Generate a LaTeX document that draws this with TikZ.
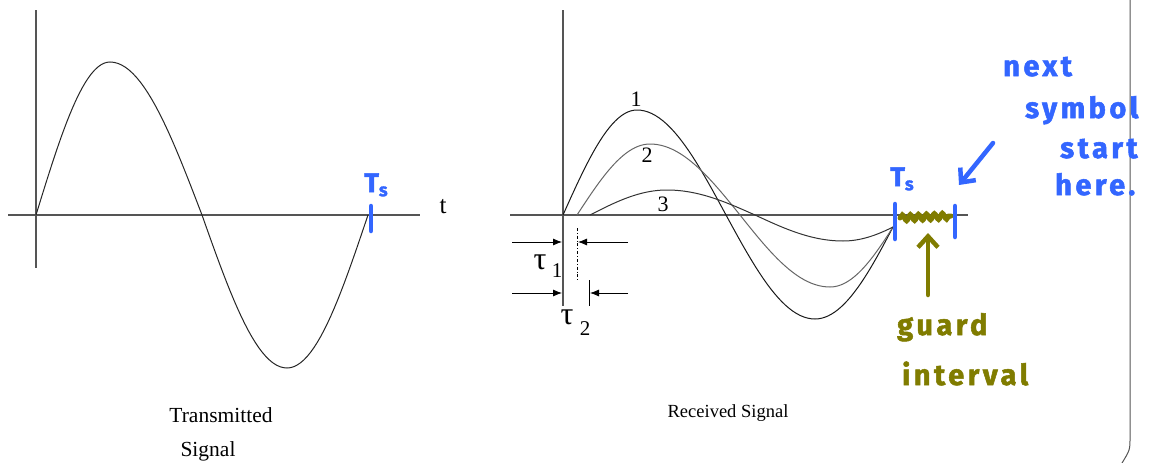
\documentclass[tikz,border=0pt]{standalone}
\usepackage{fontspec}
\setmainfont{Liberation Serif}
\newfontfamily\hand{Fira Sans}[LetterSpace=12,FakeBold=1.8]
\usetikzlibrary{arrows.meta,decorations.pathmorphing}
\definecolor{axisgray}{RGB}{85,85,85}
\definecolor{penblue}{RGB}{51,102,255}
\definecolor{penolive}{RGB}{128,124,0}
\newcommand\wavecurve[9]{%
  \draw[#9] plot[domain=0:90,samples=25] ({#1+(#2-#1)*\x/90},{215-#6*sin(\x)})
    -- plot[domain=90:180,samples=25] ({#2+(#3-#2)*(\x-90)/90},{215-#6*sin(\x)})
    -- plot[domain=180:270,samples=25] ({#3+(#4-#3)*(\x-180)/90},{215-#7*sin(\x)})
    -- plot[domain=270:#8,samples=25] ({#4+(#5-#4)*(\x-270)/(#8-270)},{215-#7*sin(\x)});}
\begin{document}
\begin{tikzpicture}[x=1pt,y=-1pt,
  axis/.style={draw=axisgray,line width=1.2pt},
  curve/.style={line width=1pt},
  lbl/.style={inner sep=0pt},
  dim/.style={draw=black,line width=0.8pt,-{Latex[length=9pt,width=7pt]}},
  bluepen/.style={draw=penblue,line width=4.5pt,line cap=round},
  olivepen/.style={draw=penolive,line width=4.5pt,line cap=round},
  handtxt/.style={font=\hand\bfseries\fontsize{29}{31}\selectfont,inner sep=0pt,anchor=base west}]
\useasboundingbox (0,0) rectangle (1159,463);
% ---------- left plot ----------
\coordinate (lyt) at (36,10); \coordinate (lyb) at (36,268);
\coordinate (lxl) at (8,215); \coordinate (lxr) at (420,215);
\draw[axis] (lyt) -- (lyb);
\draw[axis] (lxl) -- (lxr);
\wavecurve{36}{110}{202}{287}{368}{153}{153}{360}{curve,draw=black!85}
\node[lbl,font=\fontsize{25}{27}\selectfont] (t) at (443,207) {t};
\node[lbl,font=\fontsize{21.5}{24}\selectfont] (tx1) at (221,415) {Transmitted};
\node[lbl,font=\fontsize{21.5}{24}\selectfont] (tx2) at (208,451) {Signal};
% ---------- right plot ----------
\coordinate (ryt) at (563,10); \coordinate (ryb) at (563,306);
\coordinate (rxl) at (510,215); \coordinate (rxr) at (968,215);
\draw[axis] (ryt) -- (ryb);
\draw[axis] (rxl) -- (rxr);
\wavecurve{563}{637}{726}{815}{893}{105}{104}{353.4}{curve,draw=black!90}
\wavecurve{577}{650}{740}{830}{893}{71}{72}{350.4}{curve,draw=black!60}
\wavecurve{590}{667}{755}{843}{893}{25}{26}{332.5}{curve,draw=black!80}
\node[lbl,font=\fontsize{22}{24}\selectfont] (n1) at (636,99) {1};
\node[lbl,font=\fontsize{22}{24}\selectfont] (n2) at (647,155) {2};
\node[lbl,font=\fontsize{22}{24}\selectfont] (n3) at (663,204) {3};
\node[lbl,font=\fontsize{18.5}{21}\selectfont] (rx) at (728,413) {Received Signal};
% tau dimension marks
\coordinate (a1l) at (512,242); \coordinate (a1r) at (628,242);
\coordinate (a1e) at (562,242); \coordinate (a1f) at (578,242);
\coordinate (a2l) at (512,293); \coordinate (a2r) at (628,293);
\coordinate (a2e) at (562,293); \coordinate (a2f) at (590,293);
\draw[dim] (a1l) -- (a1e);
\draw[dim] (a1r) -- (a1f);
\draw[dim] (a2l) -- (a2e);
\draw[dim] (a2r) -- (a2f);
\coordinate (d1t) at (577,228); \coordinate (d1b) at (577,280);
\draw[black,line width=0.7pt,dash dot] (d1t) -- (d1b);
\coordinate (d2t) at (589,280); \coordinate (d2b) at (589,306);
\draw[black,line width=0.9pt] (d2t) -- (d2b);
\node[lbl,font=\fontsize{32}{34}\selectfont] (tau1) at (540,262) {τ};
\node[lbl,font=\fontsize{21}{23}\selectfont] (tau1s) at (557,271) {1};
\node[lbl,font=\fontsize{32}{34}\selectfont] (tau2) at (567,317) {τ};
\node[lbl,font=\fontsize{21}{23}\selectfont] (tau2s) at (585,329) {2};
% ---------- border ----------
\coordinate (bt) at (1130,0); \coordinate (bb) at (1130,437); \coordinate (be) at (1122,463);
\draw[draw=axisgray,line width=1pt] (bt) -- (bb) .. controls (1130,450) .. (be);
% ---------- blue annotations ----------
\coordinate (tk1t) at (371,206); \coordinate (tk1b) at (371,231);
\draw[bluepen] (tk1t) -- (tk1b);
\node[text=penblue,font=\hand\bfseries\fontsize{27}{29}\selectfont,inner sep=0pt] (ts1) at (376,185) {T\raisebox{-4pt}{\fontsize{18}{18}\selectfont s}};
\coordinate (tk2t) at (895,204); \coordinate (tk2b) at (895,239);
\coordinate (tk3t) at (955,206); \coordinate (tk3b) at (955,237);
\coordinate (gs) at (900,218); \coordinate (ge) at (951,216);
\draw[olivepen,line width=5pt,decorate,decoration={snake,amplitude=3pt,segment length=8pt}] (gs) -- (ge);
\draw[bluepen] (tk2t) -- (tk2b);
\draw[bluepen] (tk3t) -- (tk3b);
\node[text=penblue,font=\hand\bfseries\fontsize{27}{29}\selectfont,inner sep=0pt] (ts2) at (902,179) {T\raisebox{-4pt}{\fontsize{18}{18}\selectfont s}};
\coordinate (ba1) at (993,143); \coordinate (ba2) at (959,185);
\draw[bluepen,-{Straight Barb[length=11pt,width=20pt,line width=4.5pt]}] (ba1) -- (ba2);
\node[handtxt,text=penblue] (w1) at (1003,76) {next};
\node[handtxt,text=penblue] (w2) at (1025,118) {symbol};
\node[handtxt,text=penblue] (w3) at (1060,158) {start};
\node[handtxt,text=penblue] (w4) at (1055,195) {here.};
% ---------- olive annotations ----------
\coordinate (oa1) at (928,295); \coordinate (oa2) at (928,233);
\draw[olivepen,-{Straight Barb[length=11pt,width=20pt,line width=4.5pt]}] (oa1) -- (oa2);
\node[handtxt,text=penolive] (g1) at (897,335) {guard};
\node[handtxt,text=penolive] (g2) at (902,385) {interval};
\end{tikzpicture}
\end{document}
